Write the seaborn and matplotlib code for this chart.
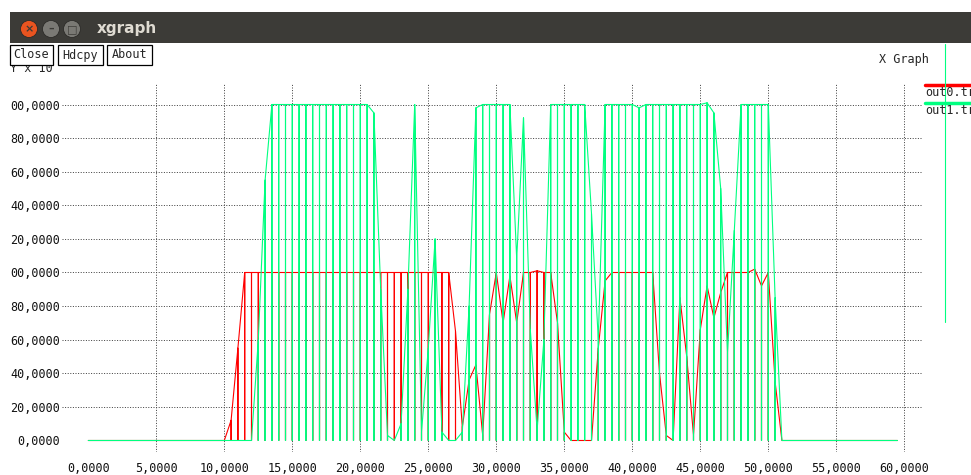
import pandas as pd
import seaborn as sns
import matplotlib.pyplot as plt
from matplotlib.patches import Rectangle, Ellipse
from matplotlib.lines import Line2D

W, H = 971, 475

# times (s) where both traces drop to zero, and the level each trace sits at there
dip_times = [10.0, 10.5, 11.0, 11.5, 12.0, 12.5, 13.0, 13.5, 14.0, 14.5, 15.0, 15.5, 16.0,
             16.5, 17.0, 17.5, 18.0, 18.5, 19.0, 19.5, 20.0, 20.5, 21.0, 21.5, 22.0,
             22.5, 23.0, 23.5, 24.0, 24.5, 25.0, 25.5, 26.0, 26.5, 27.0, 27.5, 28.0,
             28.5, 29.0, 29.5, 30.0, 30.5, 31.0, 31.5, 32.0, 32.5, 33.0, 33.5, 34.0,
             34.5, 35.0, 35.5, 36.0, 36.5, 37.0, 37.5, 38.0, 38.5, 39.0, 39.5, 40.0,
             40.5, 41.0, 41.5, 42.0, 42.5, 43.0, 43.5, 44.0, 44.5, 45.0, 45.5, 46.0,
             46.5, 47.0, 47.5, 48.0, 48.5, 49.0, 49.5, 50.0, 50.5, 51.0]
red_level = [0, 12, 55, 100, 100, 100, 100, 100, 100, 100, 100, 100, 100,
             100, 100, 100, 100, 100, 100, 100, 100, 100, 100, 100, 100,
             100, 100, 100, 100, 100, 100, 100, 100, 100, 65, 8, 36,
             45, 3, 75, 100, 70, 98, 70, 100, 100, 101, 100, 100,
             70, 5, 0, 0, 0, 0, 55, 95, 100, 100, 100, 100,
             100, 100, 100, 40, 3, 0, 85, 50, 3, 66, 92, 73,
             88, 100, 100, 100, 100, 102, 92, 100, 35, 0]
green_level = [0, 0, 0, 0, 0, 60, 155, 200, 200, 200, 200, 200, 200,
               200, 200, 200, 200, 200, 200, 200, 200, 200, 195, 90, 3,
               0, 10, 90, 200, 5, 55, 120, 5, 0, 0, 5, 80,
               198, 200, 200, 200, 200, 200, 108, 192, 66, 6, 60, 200,
               200, 200, 200, 200, 200, 135, 60, 200, 200, 200, 200, 200,
               198, 200, 200, 200, 200, 200, 200, 200, 200, 200, 201, 195,
               150, 52, 125, 200, 200, 200, 200, 200, 85, 0]
trace_start, trace_end = 0.0, 59.5

x_ticks = [0, 5, 10, 15, 20, 25, 30, 35, 40, 45, 50, 55, 60]
x_labels = ["0,0000", "5,0000", "10,0000", "15,0000", "20,0000", "25,0000", "30,0000",
            "35,0000", "40,0000", "45,0000", "50,0000", "55,0000", "60,0000"]
y_ticks = [0, 20, 40, 60, 80, 100, 120, 140, 160, 180, 200]
y_labels = ["0,0000", "20,0000", "40,0000", "60,0000", "80,0000", "00,0000",
            "20,0000", "40,0000", "60,0000", "80,0000", "00,0000"]


def trace(levels):
    t, v = [trace_start], [0]
    for tk, lk in zip(dip_times, levels):
        t += [tk, tk, tk]
        v += [lk, 0, lk]
    t.append(trace_end)
    v.append(0)
    return pd.DataFrame({"t": t, "v": v})


def fx(x):
    return x / W


def fy(y):
    return 1 - y / H


sns.set_style("white")
plt.rcParams["font.family"] = ["DejaVu Sans Mono"]

fig = plt.figure(figsize=(W / 100, H / 100), dpi=100)
ax = fig.add_axes([fx(62), fy(452), 861 / W, 369 / H])
ax.set_xlim(-1.934, 61.375)
ax.set_ylim(-6.85, 212.8)

grid_style = dict(colors="#444444", linestyles=(0, (1, 1.6)), linewidth=0.72, zorder=1)
ax.vlines(x_ticks[1:], -6.85, 212.8, **grid_style)
ax.hlines(y_ticks[1:], -1.934, 61.375, **grid_style)

sns.lineplot(data=trace(red_level), x="t", y="v", sort=False, estimator=None,
             color="#ff0000", linewidth=0.8, ax=ax, zorder=2)
sns.lineplot(data=trace(green_level), x="t", y="v", sort=False, estimator=None,
             color="#00ff80", linewidth=0.8, ax=ax, zorder=3)

ax.set_xlabel("")
ax.set_ylabel("")
ax.set_xticks(x_ticks, x_labels)
ax.set_yticks(y_ticks, y_labels)
ax.tick_params(axis="x", length=0, pad=7, labelsize=8.5, colors="#111111")
ax.tick_params(axis="y", length=0, pad=1.5, labelsize=8.5, colors="#111111")
sns.despine(ax=ax, left=True, bottom=True)

# window title bar
fig.add_artist(Rectangle((fx(10), fy(43)), 1 - fx(10), 31 / H, transform=fig.transFigure,
                         facecolor="#3c3b37", edgecolor="none"))
for cx, col, mark in [(29, "#e95420", "×"), (51, "#7a7974", "–"), (72, "#7a7974", "□")]:
    fig.add_artist(Ellipse((fx(cx), fy(29)), 17 / W, 17 / H, transform=fig.transFigure,
                           facecolor=col, edgecolor="#2c2b28", linewidth=0.6))
    fig.text(fx(cx), fy(29), mark, color="#3c3b37", fontsize=8, ha="center", va="center",
             fontweight="bold", family="DejaVu Sans")
fig.text(fx(97), fy(29), "xgraph", color="#dfdbd2", fontsize=11, fontweight="bold",
         ha="left", va="center", family="DejaVu Sans")

# partly hidden axis unit label
fig.text(fx(10), fy(68.5), "Y x 10", fontsize=8.5, ha="left", va="center", zorder=4)
fig.text(fx(61), fy(64), "0", fontsize=6.5, ha="left", va="center", zorder=4)

# buttons
for x0, x1, label in [(10, 53, "Close"), (58, 103, "Hdcpy"), (107, 152, "About")]:
    fig.add_artist(Rectangle((fx(x0), fy(65)), (x1 - x0) / W, 20 / H, transform=fig.transFigure,
                             facecolor="white", edgecolor="black", linewidth=0.9, zorder=5))
    fig.text(fx((x0 + x1) / 2), fy(55), label, fontsize=8.5, ha="center", va="center", zorder=6)

fig.text(fx(904), fy(59), "X Graph", fontsize=8.5, ha="center", va="center")

# legend
fig.add_artist(Line2D([fx(925), 1], [fy(84.5)] * 2, color="#ff0000", linewidth=2.5,
                      transform=fig.transFigure))
fig.text(fx(925), fy(93), "out0.tr", fontsize=8.5, ha="left", va="center")
fig.add_artist(Line2D([fx(925), 1], [fy(102.5)] * 2, color="#00ff80", linewidth=2.5,
                      transform=fig.transFigure))
fig.text(fx(925), fy(111), "out1.tr", fontsize=8.5, ha="left", va="center")
fig.add_artist(Line2D([fx(945), fx(945)], [fy(44), fy(322)], color="#00ff80", linewidth=0.8,
                      transform=fig.transFigure))

fig.savefig("out.png", dpi=100, facecolor="white")
